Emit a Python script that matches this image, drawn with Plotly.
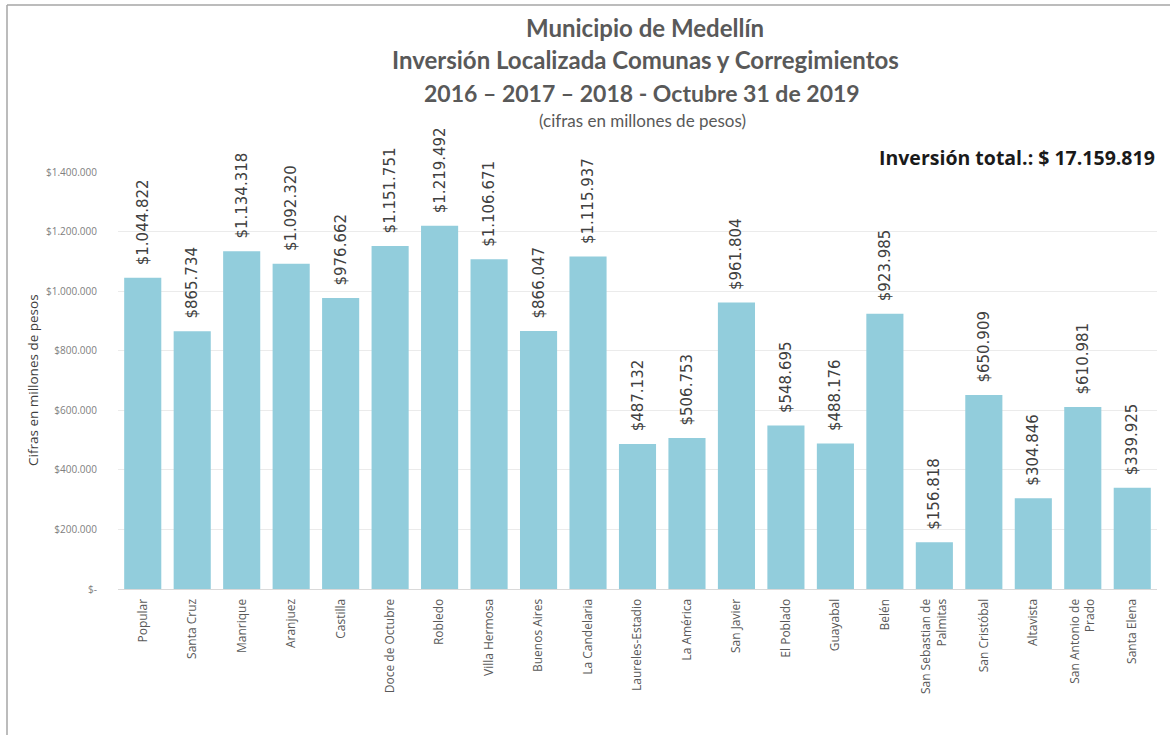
import plotly.graph_objects as go

categories = ["Popular", "Santa Cruz", "Manrique", "Aranjuez", "Castilla", "Doce de Octubre",
              "Robledo", "Villa Hermosa", "Buenos Aires", "La Candelaria", "Laureles-Estadio",
              "La América", "San Javier", "El Poblado", "Guayabal", "Belén",
              "San Sebastian de<br>Palmitas", "San Cristóbal", "Altavista",
              "San Antonio de<br>Prado", "Santa Elena"]
values = [1044822, 865734, 1134318, 1092320, 976662, 1151751, 1219492, 1106671, 866047,
          1115937, 487132, 506753, 961804, 548695, 488176, 923985, 156818, 650909,
          304846, 610981, 339925]
tick_vals = [0, 200000, 400000, 600000, 800000, 1000000, 1200000, 1400000]
tick_text = ["$-", "$200.000", "$400.000", "$600.000", "$800.000", "$1.000.000",
             "$1.200.000", "$1.400.000"]

def fmt(v):
    return "\u00a0\u00a0$" + f"{v:,}".replace(",", ".")

labels = [fmt(v) for v in values]

W, H = 1170, 735
ml, mr, mt, mb = 118, 13, 172, 146
pw, ph = W - ml - mr, H - mt - mb

def px_x(p):
    return (p - ml) / pw

def px_y(p):
    return (H - mb - p) / ph

fig = go.Figure(go.Bar(
    x=categories, y=values, text=labels, textposition="outside", textangle=-90,
    cliponaxis=False, constraintext="none",
    textfont=dict(family="DejaVu Sans", size=15, color="#404040"),
    marker=dict(color="#92CDDC", line=dict(width=0)),
))

fig.update_layout(
    width=W, height=H,
    margin=dict(l=ml, r=mr, t=mt, b=mb, autoexpand=False),
    paper_bgcolor="white", plot_bgcolor="white",
    bargap=0.25,
    showlegend=False,
    xaxis=dict(tickangle=-90, tickfont=dict(family="Open Sans", size=12, color="#595959"),
               showline=True, linecolor="#d9d9d9", ticks="", showgrid=False,
               ticklabelstandoff=4),
    yaxis=dict(range=[0, 1400000], tickvals=tick_vals, ticktext=tick_text,
               tickfont=dict(family="Open Sans", size=10, color="#808080"),
               showgrid=True, gridcolor="#ebebeb", zeroline=False, ticks="",
               ticklabelstandoff=20),
)

title_font = dict(color="#595959", family="Lato")
annotations = [
    dict(text="<b>Municipio de Medellín</b>", x=px_x(645), y=px_y(28), font=dict(size=24, **title_font)),
    dict(text="<b>Inversión Localizada Comunas y Corregimientos</b>", x=px_x(645), y=px_y(60), font=dict(size=24, **title_font)),
    dict(text="<b>2016 – 2017 – 2018 - Octubre 31 de 2019</b>", x=px_x(642), y=px_y(93), font=dict(size=23, **title_font)),
    dict(text="(cifras en millones de pesos)", x=px_x(642), y=px_y(120), font=dict(size=17, **title_font)),
    dict(text="<b>Inversión total.: $ 17.159.819</b>", x=px_x(1157), y=px_y(157), xanchor="right",
         font=dict(size=19.5, color="#1a1a1a", family="Open Sans")),
    dict(text="Cifras en millones de pesos", x=px_x(33), y=px_y(380), textangle=-90,
         font=dict(size=13.5, color="#404040", family="Open Sans")),
]
for a in annotations:
    a.setdefault("xanchor", "center")
    a.update(xref="paper", yref="paper", showarrow=False, yanchor="middle")
    fig.add_annotation(**a)

fig.add_shape(type="line", xref="paper", yref="paper", x0=px_x(7), x1=px_x(7), y0=px_y(5), y1=px_y(735),
              line=dict(color="#a6a6a6", width=1.5))
fig.add_shape(type="line", xref="paper", yref="paper", x0=px_x(7), x1=px_x(1170), y0=px_y(5), y1=px_y(5),
              line=dict(color="#a6a6a6", width=1.5))

fig.write_html("out.html", config={"displayModeBar": False},
               post_script="document.body.style.margin='0px';")
